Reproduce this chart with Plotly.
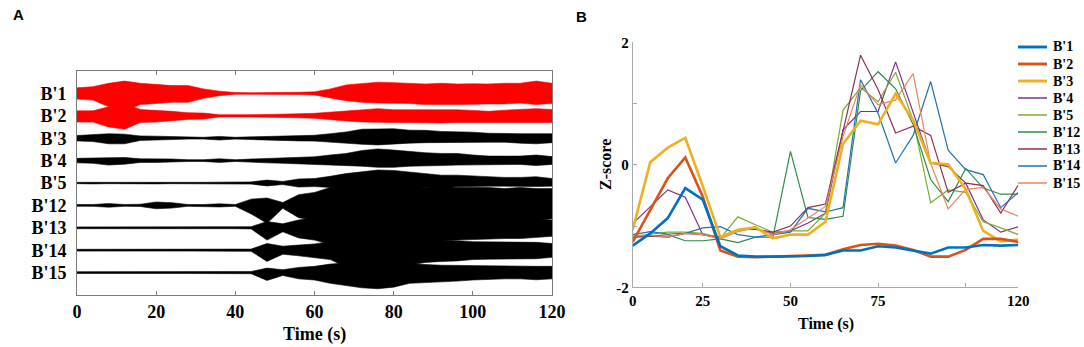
import plotly.graph_objects as go

# ---------------- Panel A data: amplitude envelopes (channel units) ----------------
t_env = list(range(0, 121, 4))
channels_a = ["B'1", "B'2", "B'3", "B'4", "B'5", "B'12", "B'13", "B'14", "B'15"]
colors_a = ["#FF0000", "#FF0000", "#000000", "#000000", "#000000", "#000000", "#000000", "#000000", "#000000"]

up_b1 = [0.25,0.3,0.45,0.55,0.45,0.4,0.35,0.35,0.2,0.1,0.04,0.03,0.03,0.04,0.05,0.07,0.2,0.38,0.45,0.5,0.48,0.45,0.42,0.45,0.42,0.43,0.42,0.45,0.45,0.55,0.45]
lo_b1 = [0.25,0.3,0.6,0.8,0.5,0.45,0.4,0.4,0.22,0.1,0.04,0.03,0.03,0.04,0.05,0.07,0.2,0.33,0.4,0.43,0.45,0.45,0.5,0.5,0.5,0.5,0.47,0.47,0.43,0.5,0.45]
up_b2 = [0.22,0.22,0.4,0.55,0.28,0.25,0.2,0.14,0.12,0.05,0.04,0.05,0.06,0.06,0.09,0.11,0.16,0.24,0.28,0.32,0.27,0.27,0.28,0.28,0.27,0.24,0.2,0.25,0.28,0.32,0.28]
lo_b2 = [0.28,0.28,0.5,0.6,0.3,0.28,0.22,0.16,0.14,0.05,0.04,0.05,0.06,0.06,0.09,0.11,0.16,0.23,0.28,0.3,0.3,0.3,0.3,0.32,0.3,0.3,0.28,0.3,0.3,0.3,0.3]
up_b3 = [0.12,0.15,0.2,0.18,0.1,0.09,0.07,0.04,0.04,0.08,0.04,0.06,0.08,0.1,0.12,0.13,0.2,0.28,0.4,0.42,0.42,0.36,0.35,0.3,0.3,0.27,0.22,0.2,0.2,0.2,0.2]
lo_b3 = [0.12,0.15,0.25,0.25,0.1,0.09,0.07,0.04,0.04,0.08,0.04,0.06,0.08,0.1,0.12,0.13,0.2,0.22,0.27,0.3,0.27,0.22,0.2,0.2,0.2,0.18,0.18,0.18,0.22,0.25,0.2]
up_b4 = [0.1,0.12,0.15,0.14,0.08,0.08,0.07,0.04,0.04,0.08,0.04,0.07,0.1,0.12,0.13,0.17,0.25,0.32,0.45,0.52,0.47,0.4,0.35,0.32,0.32,0.25,0.2,0.2,0.2,0.25,0.18]
lo_b4 = [0.1,0.12,0.2,0.16,0.08,0.08,0.07,0.04,0.04,0.08,0.04,0.07,0.1,0.12,0.13,0.15,0.2,0.22,0.25,0.3,0.3,0.25,0.22,0.22,0.2,0.17,0.17,0.17,0.17,0.22,0.17]
up_b5 = [0.03,0.04,0.03,0.03,0.03,0.04,0.03,0.03,0.03,0.04,0.04,0.05,0.13,0.07,0.18,0.2,0.3,0.42,0.5,0.58,0.56,0.5,0.43,0.35,0.35,0.31,0.28,0.25,0.25,0.28,0.2]
lo_b5 = [0.03,0.04,0.03,0.03,0.03,0.04,0.03,0.03,0.03,0.04,0.04,0.05,0.13,0.07,0.18,0.16,0.2,0.2,0.25,0.28,0.28,0.2,0.2,0.2,0.17,0.14,0.14,0.14,0.14,0.16,0.14]
up_b12 = [0.04,0.04,0.08,0.04,0.05,0.15,0.12,0.04,0.04,0.07,0.04,0.28,0.33,0.13,0.48,0.58,0.8,0.88,0.92,0.92,0.9,0.85,0.8,0.85,0.8,0.8,0.8,0.75,0.8,0.75,0.75]
lo_b12 = [0.04,0.04,0.08,0.04,0.05,0.15,0.12,0.04,0.04,0.07,0.04,0.38,0.8,0.13,0.55,0.65,0.85,0.95,1.1,1.15,1.1,1.0,0.85,0.8,0.75,0.72,0.72,0.7,0.7,0.65,0.6]
up_b13 = [0.04,0.04,0.04,0.04,0.04,0.04,0.04,0.04,0.04,0.04,0.04,0.05,0.28,0.18,0.35,0.48,0.58,0.68,0.75,0.75,0.7,0.65,0.6,0.5,0.48,0.45,0.45,0.45,0.45,0.4,0.35]
lo_b13 = [0.04,0.04,0.04,0.04,0.04,0.04,0.04,0.04,0.04,0.04,0.04,0.05,0.55,0.18,0.45,0.55,0.75,0.95,1.0,1.0,0.9,0.8,0.7,0.6,0.55,0.5,0.5,0.48,0.48,0.42,0.38]
up_b14 = [0.04,0.04,0.04,0.04,0.04,0.04,0.04,0.04,0.04,0.04,0.04,0.05,0.3,0.18,0.23,0.28,0.38,0.52,0.58,0.58,0.55,0.5,0.48,0.42,0.42,0.38,0.38,0.35,0.35,0.35,0.3]
lo_b14 = [0.04,0.04,0.04,0.04,0.04,0.04,0.04,0.04,0.04,0.04,0.04,0.05,0.5,0.18,0.25,0.32,0.42,0.75,0.85,0.85,0.75,0.65,0.55,0.5,0.48,0.42,0.4,0.38,0.38,0.38,0.32]
up_b15 = [0.04,0.04,0.04,0.04,0.04,0.04,0.04,0.04,0.04,0.04,0.04,0.05,0.2,0.13,0.23,0.28,0.38,0.43,0.48,0.48,0.43,0.38,0.36,0.33,0.32,0.3,0.28,0.28,0.28,0.28,0.28]
lo_b15 = [0.04,0.04,0.04,0.04,0.04,0.04,0.04,0.04,0.04,0.04,0.04,0.05,0.35,0.13,0.28,0.33,0.48,0.58,0.68,0.72,0.65,0.48,0.43,0.42,0.38,0.33,0.3,0.28,0.28,0.32,0.28]

uppers = [up_b1, up_b2, up_b3, up_b4, up_b5, up_b12, up_b13, up_b14, up_b15]
lowers = [lo_b1, lo_b2, lo_b3, lo_b4, lo_b5, lo_b12, lo_b13, lo_b14, lo_b15]
a_xticks = [0, 20, 40, 60, 80, 100, 120]

# ---------------- Panel B data: z-scores per window ----------------
win_idx = list(range(23))
b_tickvals = [0, 4, 9, 14, 19, 22]
b_ticktext = ["0", "25", "50", "75", "", "120"]

z_b1 = [-1.32,-1.12,-0.87,-0.38,-0.57,-1.33,-1.48,-1.50,-1.50,-1.50,-1.49,-1.47,-1.40,-1.40,-1.33,-1.35,-1.40,-1.45,-1.35,-1.35,-1.31,-1.32,-1.31]
z_b2 = [-1.26,-0.73,-0.22,0.12,-0.52,-1.40,-1.50,-1.51,-1.50,-1.49,-1.48,-1.47,-1.38,-1.31,-1.29,-1.32,-1.39,-1.50,-1.50,-1.39,-1.21,-1.21,-1.26]
z_b3 = [-1.06,0.04,0.28,0.44,-0.35,-1.18,-1.06,-1.02,-1.20,-1.14,-1.14,-0.93,0.34,0.72,0.66,1.16,0.73,0.03,0.01,-0.40,-1.08,-1.25,-1.22]
z_b4 = [-0.96,-0.68,-0.41,-0.53,-1.14,-1.18,-1.06,-1.05,-1.12,-1.08,-0.95,-0.79,0.57,0.87,0.87,1.68,0.84,0.03,-0.03,-0.30,-0.90,-1.10,-1.01]
z_b5 = [-1.17,-1.14,-1.10,-1.10,-1.12,-1.20,-0.85,-0.98,-1.10,-1.08,-1.08,-0.79,0.89,1.26,1.03,1.51,0.73,-0.62,-0.41,-0.45,-0.93,-1.03,-1.14]
z_b12 = [-1.18,-1.17,-1.14,-1.24,-1.24,-1.21,-1.27,-1.18,-1.18,0.22,-0.86,-0.89,-0.84,1.21,1.52,1.24,0.66,-0.24,-0.60,-0.06,-0.38,-0.48,-0.48]
z_b13 = [-1.18,-1.16,-1.18,-1.12,-1.14,-1.20,-1.06,-1.05,-1.10,-1.00,-0.70,-0.64,0.55,1.79,1.23,0.52,0.63,0.48,-0.45,-0.30,-0.34,-0.79,-0.33]
z_b14 = [-1.14,-1.09,-1.13,-1.12,-1.03,-1.01,-1.14,-1.18,-1.14,-1.10,-0.71,-0.77,-0.70,1.39,0.84,0.03,0.48,1.36,0.24,-0.08,-0.16,-0.70,-0.45]
z_b15 = [-1.17,-1.15,-1.18,-1.12,-1.14,-1.21,-1.09,-1.03,-1.14,-1.06,-0.87,-0.68,0.46,1.31,0.98,1.06,1.49,0.02,-0.72,-0.40,-0.37,-0.72,-0.84]

series_b = [z_b1, z_b2, z_b3, z_b4, z_b5, z_b12, z_b13, z_b14, z_b15]
colors_b = ["#0072BD", "#D95319", "#EDB120", "#7E2F8E", "#77AC30", "#2E8B46", "#8E2D5A", "#2271B3", "#E8845C"]
widths_b = [2.6, 2.6, 2.6, 1.2, 1.2, 1.2, 1.2, 1.2, 1.2]

SERIF = "'Liberation Serif', 'Times New Roman', 'DejaVu Serif', serif"
SANS = "'Liberation Sans', Arial, sans-serif"
W, H = 1084, 347
fig = go.Figure()

# Panel A traces
n = len(channels_a)
for k in range(n):
    c = n - k  # B'1 at top
    up = [c + v for v in uppers[k]]
    lo = [c - v for v in lowers[k]]
    fig.add_trace(go.Scatter(
        x=t_env + t_env[::-1], y=up + lo[::-1], fill="toself",
        fillcolor=colors_a[k], line=dict(color=colors_a[k], width=0.6),
        mode="lines", showlegend=False, hoverinfo="skip",
        xaxis="x", yaxis="y"))

# Panel B traces: thin lines first, thick ones on top
order = [3, 4, 5, 6, 7, 8, 2, 1, 0]
for k in order:
    fig.add_trace(go.Scatter(
        x=win_idx, y=series_b[k], mode="lines", name=channels_a[k],
        line=dict(color=colors_b[k], width=widths_b[k]),
        showlegend=False, xaxis="x2", yaxis="y2"))

# Legend for panel B (key lines + labels)
shapes = []
annotations = []
for k in range(n):
    yy = 1 - (47 + 17 * k) / H
    shapes.append(dict(type="line", xref="paper", yref="paper",
                       x0=1018 / W, x1=1047 / W, y0=yy, y1=yy,
                       line=dict(color=colors_b[k], width=widths_b[k] + 0.3)))
    annotations.append(dict(text="<b>" + channels_a[k] + "</b>", x=1051 / W, y=yy,
                            xref="paper", yref="paper", xanchor="left", yanchor="middle",
                            showarrow=False, font=dict(family=SERIF, size=14, color="black")))

annotations += [
    dict(text="<b>A</b>", x=18 / W, y=1 - 15 / H, xref="paper", yref="paper",
         xanchor="center", yanchor="middle",
         showarrow=False, font=dict(family=SANS, size=15, color="black")),
    dict(text="<b>B</b>", x=581 / W, y=1 - 17 / H, xref="paper", yref="paper",
         xanchor="center", yanchor="middle",
         showarrow=False, font=dict(family=SANS, size=15, color="black")),
    dict(text="<b>Time (s)</b>", x=314 / W, y=1 - 334 / H, xref="paper", yref="paper",
         xanchor="center", yanchor="middle",
         showarrow=False, font=dict(family=SERIF, size=18, color="black")),
    dict(text="<b>Time (s)</b>", x=826 / W, y=1 - 324 / H, xref="paper", yref="paper",
         xanchor="center", yanchor="middle",
         showarrow=False, font=dict(family=SERIF, size=16, color="black")),
    dict(text="<b>Z-score</b>", x=605 / W, y=1 - 165 / H, xref="paper", yref="paper",
         xanchor="center", yanchor="middle",
         showarrow=False, textangle=-90, font=dict(family=SERIF, size=16, color="black")),
]

fig.update_layout(
    template="none",
    width=W, height=H, margin=dict(l=0, r=0, t=0, b=0, autoexpand=False),
    paper_bgcolor="white", plot_bgcolor="white", showlegend=False,
    font=dict(family=SERIF, color="black"),
    xaxis=dict(domain=[77 / W, 552 / W], range=[0, 120], tickvals=a_xticks, automargin=False,
               showline=True, linecolor="#7a7a7a", linewidth=1, mirror="ticks",
               ticks="inside", ticklen=4, tickcolor="#7a7a7a", showgrid=False, zeroline=False,
               tickfont=dict(family=SERIF, size=18, color="black", weight="bold")),
    yaxis=dict(domain=[1 - 295 / H, 1 - 71 / H], range=[0, 10], automargin=False,
               tickvals=[n - k for k in range(n)], ticktext=channels_a,
               showline=True, linecolor="#7a7a7a", linewidth=1, mirror=True,
               ticks="", showgrid=False, zeroline=False, ticklabelstandoff=6,
               tickfont=dict(family=SERIF, size=18, color="black", weight="bold")),
    xaxis2=dict(domain=[632.7 / W, 1018.3 / W], range=[0, 22], tickvals=b_tickvals, ticktext=b_ticktext,
                showline=True, linecolor="#a8a8a8", linewidth=1, ticks="inside", ticklen=4, automargin=False,
                tickcolor="#a8a8a8", showgrid=False, zeroline=False, anchor="y2",
                tickfont=dict(family=SERIF, size=15, color="black", weight="bold")),
    yaxis2=dict(domain=[1 - 287.3 / H, 1 - 42.3 / H], range=[-2, 2], automargin=False,
                tickvals=[-2, -1, 0, 1, 2], ticktext=["-2", "", "0", "", "2"],
                showline=True, linecolor="#a8a8a8", linewidth=1, ticks="inside", ticklen=4,
                tickcolor="#a8a8a8", showgrid=False, zeroline=False, anchor="x2",
                tickfont=dict(family=SERIF, size=15, color="black", weight="bold")),
    shapes=shapes,
    annotations=annotations,
)

fig.write_html("out.html", config={"displayModeBar": False},
               post_script="document.body.style.margin='0';document.body.style.padding='0';document.body.style.overflow='hidden';")
